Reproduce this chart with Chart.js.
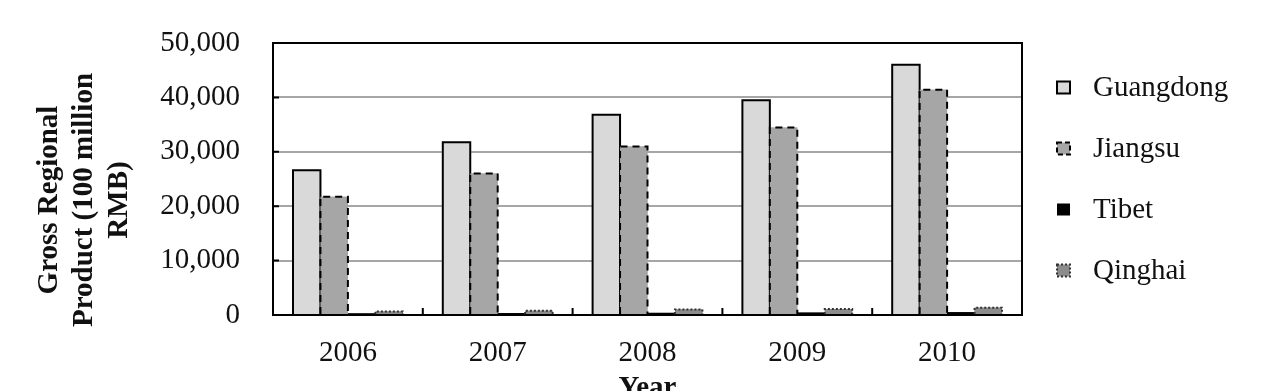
<!DOCTYPE html>
<html>
<head>
<meta charset="utf-8">
<script src="https://cdn.jsdelivr.net/npm/chart.js@4.4.0/dist/chart.umd.min.js"></script>
<style>
  html, body { margin: 0; padding: 0; background: #fff; }
  #wrap { width: 1261px; height: 391px; }
</style>
</head>
<body>
<div id="wrap"><canvas id="gdpChart" width="1261" height="391"></canvas></div>
<script>
// Chart data
const years = ['2006', '2007', '2008', '2009', '2010'];
const guangdong = [26588, 31777, 36797, 39483, 46013];
const jiangsu = [21742, 26018, 30982, 34457, 41425];
const tibet = [291, 342, 395, 441, 507];
const qinghai = [642, 784, 1018, 1081, 1350];
const yTicks = [0, 10000, 20000, 30000, 40000, 50000];
const yTitle = ['Gross Regional', 'Product (100 million', 'RMB)'];
const xTitle = 'Year';

const serif = "'Liberation Serif', 'Times New Roman', serif";
const textColor = '#111';

// Bars are re-filled and outlined here so that dashed / dotted borders work
const barOutlines = {
    id: 'barOutlines',
    afterDatasetsDraw(chart) {
        const ctx = chart.ctx;
        chart.data.datasets.forEach((ds, i) => {
            chart.getDatasetMeta(i).data.forEach(bar => {
                const p = bar.getProps(['x', 'y', 'base', 'width'], true);
                const l = p.x - p.width / 2;
                const r = p.x + p.width / 2;
                ctx.save();
                ctx.fillStyle = ds.backgroundColor;
                ctx.fillRect(l, p.y, p.width, p.base - p.y);
                if (ds.outlineWidth) {
                    ctx.strokeStyle = ds.outlineColor;
                    ctx.lineWidth = ds.outlineWidth;
                    ctx.setLineDash(ds.outlineDash);
                    ctx.beginPath();
                    ctx.moveTo(l, p.base);
                    ctx.lineTo(l, p.y);
                    ctx.lineTo(r, p.y);
                    ctx.lineTo(r, p.base);
                    ctx.stroke();
                }
                ctx.restore();
            });
        });
    }
};

// Plot frame, inner tick marks, axis titles and legend
const decorations = {
    id: 'decorations',
    afterDraw(chart) {
        const ctx = chart.ctx;
        const area = chart.chartArea;
        const xs = chart.scales.x;
        const ys = chart.scales.y;
        ctx.save();

        // frame
        ctx.strokeStyle = '#000';
        ctx.lineWidth = 2;
        ctx.strokeRect(area.left, area.top, area.right - area.left, area.bottom - area.top);

        // y ticks pointing inwards
        ctx.beginPath();
        yTicks.forEach(v => {
            const py = ys.getPixelForValue(v);
            ctx.moveTo(area.left, py);
            ctx.lineTo(area.left + 6, py);
        });
        // x ticks at category boundaries
        for (let i = 0; i < years.length - 1; i++) {
            const px = (xs.getPixelForTick(i) + xs.getPixelForTick(i + 1)) / 2;
            ctx.moveTo(px, area.bottom);
            ctx.lineTo(px, area.bottom - 7);
        }
        ctx.stroke();

        // axis titles
        ctx.fillStyle = textColor;
        ctx.font = 'bold 29px ' + serif;
        ctx.textAlign = 'center';
        ctx.textBaseline = 'alphabetic';
        ctx.fillText(xTitle, (area.left + area.right) / 2, 396);

        const baselines = [57, 92, 127];
        yTitle.forEach((line, i) => {
            ctx.save();
            ctx.translate(baselines[i], 200);
            ctx.rotate(-Math.PI / 2);
            ctx.fillText(line, 0, 0);
            ctx.restore();
        });

        // legend
        const mid = (area.top + area.bottom) / 2;
        const gap = 61;
        const n = chart.data.datasets.length;
        ctx.font = '29px ' + serif;
        ctx.textAlign = 'left';
        ctx.textBaseline = 'middle';
        chart.data.datasets.forEach((ds, i) => {
            const cy = mid + (i - (n - 1) / 2) * gap;
            const bx = 1057, bw = 13, bh = 12;
            ctx.fillStyle = ds.backgroundColor;
            ctx.fillRect(bx, cy - bh / 2, bw, bh);
            if (ds.outlineWidth) {
                ctx.save();
                ctx.strokeStyle = ds.outlineColor;
                ctx.lineWidth = 2;
                ctx.setLineDash(ds.legendDash);
                ctx.strokeRect(bx, cy - bh / 2, bw, bh);
                ctx.restore();
            }
            ctx.fillStyle = textColor;
            ctx.fillText(ds.label, 1093, cy + 1);
        });

        ctx.restore();
    }
};

const ctx = document.getElementById('gdpChart').getContext('2d');
new Chart(ctx, {
    type: 'bar',
    data: {
        labels: years,
        datasets: [
            { label: 'Guangdong', data: guangdong, backgroundColor: '#d9d9d9',
              outlineWidth: 2, outlineColor: '#000', outlineDash: [], legendDash: [] },
            { label: 'Jiangsu', data: jiangsu, backgroundColor: '#a6a6a6',
              outlineWidth: 2, outlineColor: '#000', outlineDash: [7, 5], legendDash: [5, 3] },
            { label: 'Tibet', data: tibet, backgroundColor: '#000' },
            { label: 'Qinghai', data: qinghai, backgroundColor: '#8c8c8c',
              outlineWidth: 2, outlineColor: '#333', outlineDash: [2, 2], legendDash: [2, 2] }
        ]
    },
    options: {
        responsive: false,
        animation: false,
        devicePixelRatio: 1,
        categoryPercentage: 0.733,
        barPercentage: 1,
        borderWidth: 0,
        layout: { padding: { top: 43, right: 239, bottom: 0, left: 0 } },
        plugins: {
            legend: { display: false },
            tooltip: { enabled: false }
        },
        scales: {
            x: {
                grid: { display: false, drawTicks: false },
                border: { display: false },
                ticks: { font: { family: serif, size: 29 }, color: textColor, padding: 21 },
                afterFit: s => { s.height = 76; s.paddingLeft = 0; s.paddingRight = 0; }
            },
            y: {
                min: 0,
                max: 50000,
                afterBuildTicks: s => { s.ticks = yTicks.map(v => ({ value: v })); },
                ticks: {
                    font: { family: serif, size: 29 },
                    color: textColor,
                    padding: 33,
                    callback: v => v.toLocaleString('en-US')
                },
                grid: { color: '#a6a6a6', lineWidth: 2, drawTicks: false },
                border: { display: false },
                afterFit: s => { s.width = 273; s.paddingTop = 0; s.paddingBottom = 0; }
            }
        }
    },
    plugins: [barOutlines, decorations]
});
</script>
</body>
</html>
